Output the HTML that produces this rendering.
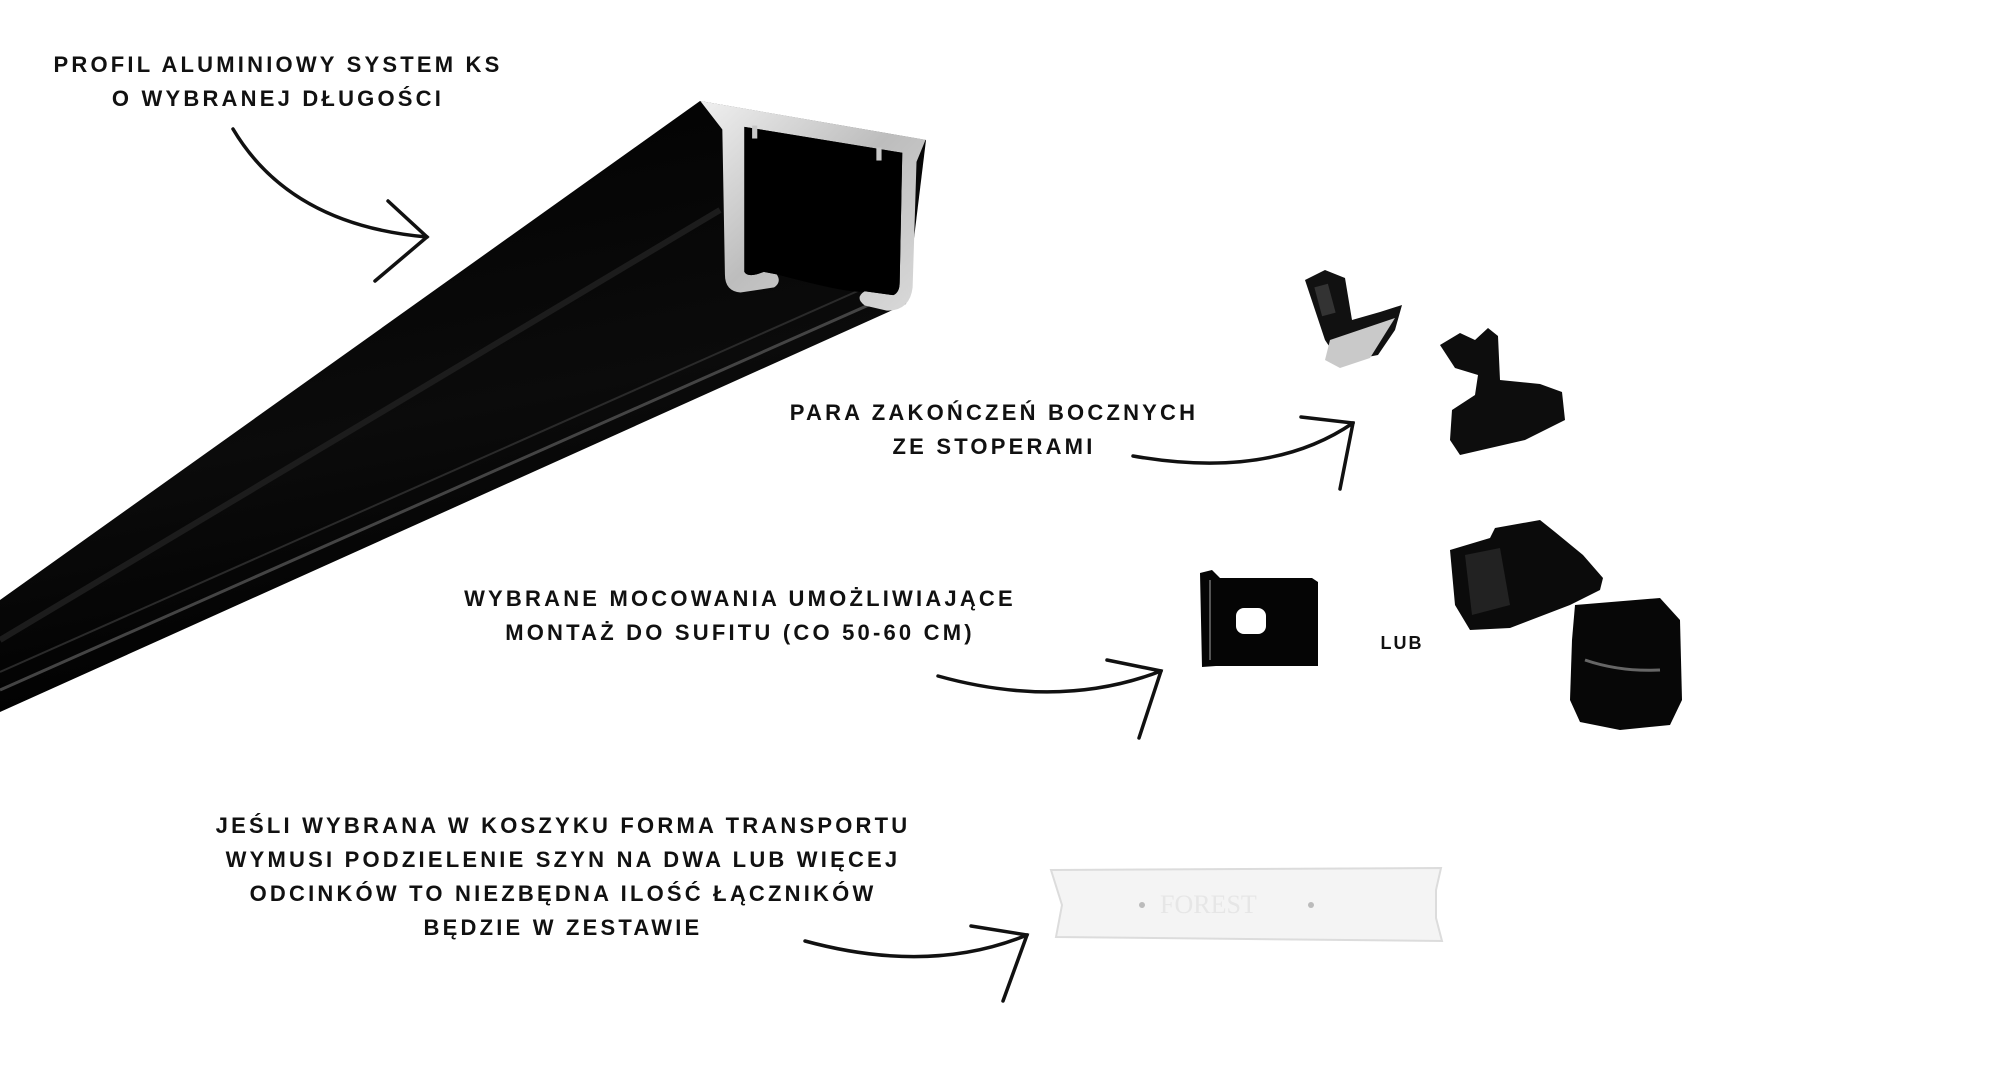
<!DOCTYPE html>
<html><head><meta charset="utf-8"><style>
html,body{margin:0;padding:0;background:#fff;}
body{width:2000px;height:1080px;position:relative;overflow:hidden;font-family:"Liberation Sans",sans-serif;}
.t{position:absolute;font-weight:bold;font-size:22px;letter-spacing:3.2px;color:#111;text-align:center;line-height:34px;white-space:nowrap;transform:translateX(-50%);}
svg{position:absolute;left:0;top:0;}
</style></head><body>
<svg width="2000" height="1080" viewBox="0 0 2000 1080">
<defs>
<linearGradient id="sil" x1="0" y1="0" x2="1" y2="1"><stop offset="0" stop-color="#f0f0f0"/><stop offset="0.5" stop-color="#bdbdbd"/><stop offset="1" stop-color="#dadada"/></linearGradient>
<linearGradient id="bm" x1="0" y1="0" x2="0.3" y2="1"><stop offset="0" stop-color="#000"/><stop offset="0.6" stop-color="#0b0b0b"/><stop offset="1" stop-color="#000"/></linearGradient>
</defs>
<!-- beam -->
<polygon points="700,101 0,600 0,712 906,304 926,140" fill="url(#bm)"/>
<polyline points="880,300 0,690" stroke="#444" stroke-width="3" fill="none"/>
<polyline points="860,290 0,672" stroke="#2a2a2a" stroke-width="2" fill="none"/>
<polyline points="720,210 0,640" stroke="#1c1c1c" stroke-width="6" fill="none"/>
<!-- face -->
<g transform="scale(1.2945)">
<path d="M541,78 L715,108 L708,125 L705,222 Q703,240 685,240 L668,236 Q660,230 668,225 L690,228 Q695,226 695,218 L697,118 L575,98 L575,210 Q578,215 590,210 L600,212 Q604,218 598,222 L572,226 Q560,225 560,212 L558,100 Z" fill="url(#sil)"/>
<path d="M575,98 L697,118 L695,218 Q695,226 690,228 L668,225 Q660,228 600,212 L590,210 Q578,215 575,210 Z" fill="#000"/>
<rect x="581" y="97" width="4" height="10" fill="#c8c8c8"/>
<rect x="677" y="114" width="4" height="10" fill="#c8c8c8"/>
</g>
<!-- arrows -->
<g fill="none" stroke="#111" stroke-width="3.5" stroke-linecap="round">
<path d="M233,129 Q290,225 427,237"/><path d="M388,201 L427,237 L375,281"/>
<path d="M1133,456 Q1270,480 1353,423"/><path d="M1301,417 L1353,423 L1340,489"/>
<path d="M938,676 Q1060,710 1161,671"/><path d="M1107,660 L1161,671 L1139,738"/>
<path d="M805,941 Q930,975 1027,935"/><path d="M971,926 L1027,935 L1003,1001"/>
</g>
<!-- stopper 1 -->
<g>
<path d="M1305,280 L1325,270 L1345,278 L1352,320 L1380,312 L1402,305 L1395,330 L1378,355 L1352,360 L1335,355 L1325,340 L1315,310 Z" fill="#111"/>
<path d="M1330,340 L1395,318 L1370,358 L1340,368 L1325,360 Z" fill="#c9c9c9"/>
<rect x="1318" y="285" width="14" height="30" fill="#333" transform="rotate(-15 1325 300)"/>
</g>
<!-- stopper 2 -->
<path d="M1440,345 L1460,333 L1475,340 L1488,328 L1498,336 L1500,380 L1540,384 L1562,392 L1565,420 L1525,440 L1460,455 L1450,440 L1452,410 L1475,395 L1478,375 L1455,368 Z" fill="#0d0d0d"/>
<!-- bracket -->
<path d="M1200,573 L1212,570 L1220,578 L1312,578 L1318,582 L1318,666 L1216,666 L1202,667 Z" fill="#050505"/>
<rect x="1236" y="608" width="30" height="26" rx="8" fill="#fff"/>
<line x1="1210" y1="580" x2="1210" y2="660" stroke="#555" stroke-width="2"/>
<!-- clip -->
<path d="M1450,550 L1490,538 L1495,528 L1540,520 L1555,532 L1583,555 L1603,578 L1600,590 L1570,605 L1510,628 L1470,630 L1455,605 Z" fill="#0b0b0b"/>
<path d="M1465,555 L1500,548 L1510,605 L1472,615 Z" fill="#222"/>
<!-- cap -->
<path d="M1575,605 L1660,598 L1680,620 L1682,700 L1670,725 L1620,730 L1580,722 L1570,700 L1572,640 Z" fill="#070707"/>
<path d="M1585,660 Q1620,672 1660,670" stroke="#666" stroke-width="3" fill="none"/>
<!-- connector -->
<path d="M1051,870 L1441,868 L1436,890 L1436,918 L1442,941 L1056,937 L1062,905 Z" fill="#f4f4f4" stroke="#dcdcdc" stroke-width="2"/>
<circle cx="1142" cy="905" r="3" fill="#bbb"/><circle cx="1311" cy="905" r="3" fill="#bbb"/>
<text x="1160" y="913" font-family="Liberation Serif,serif" font-size="26" fill="#e6e6e6">FOREST</text>
</svg>
<div class="t" style="left:278px;top:48px;">PROFIL ALUMINIOWY SYSTEM KS<br>O WYBRANEJ DŁUGOŚCI</div>
<div class="t" style="left:994px;top:396px;">PARA ZAKOŃCZEŃ BOCZNYCH<br>ZE STOPERAMI</div>
<div class="t" style="left:740px;top:582px;">WYBRANE MOCOWANIA UMOŻLIWIAJĄCE<br>MONTAŻ DO SUFITU (CO 50-60 CM)</div>
<div class="t" style="left:563px;top:809px;">JEŚLI WYBRANA W KOSZYKU FORMA TRANSPORTU<br>WYMUSI PODZIELENIE SZYN NA DWA LUB WIĘCEJ<br>ODCINKÓW TO NIEZBĘDNA ILOŚĆ ŁĄCZNIKÓW<br>BĘDZIE W ZESTAWIE</div>
<div class="t" style="left:1402px;top:626px;font-size:18px;letter-spacing:2px;">LUB</div>
</body></html>
